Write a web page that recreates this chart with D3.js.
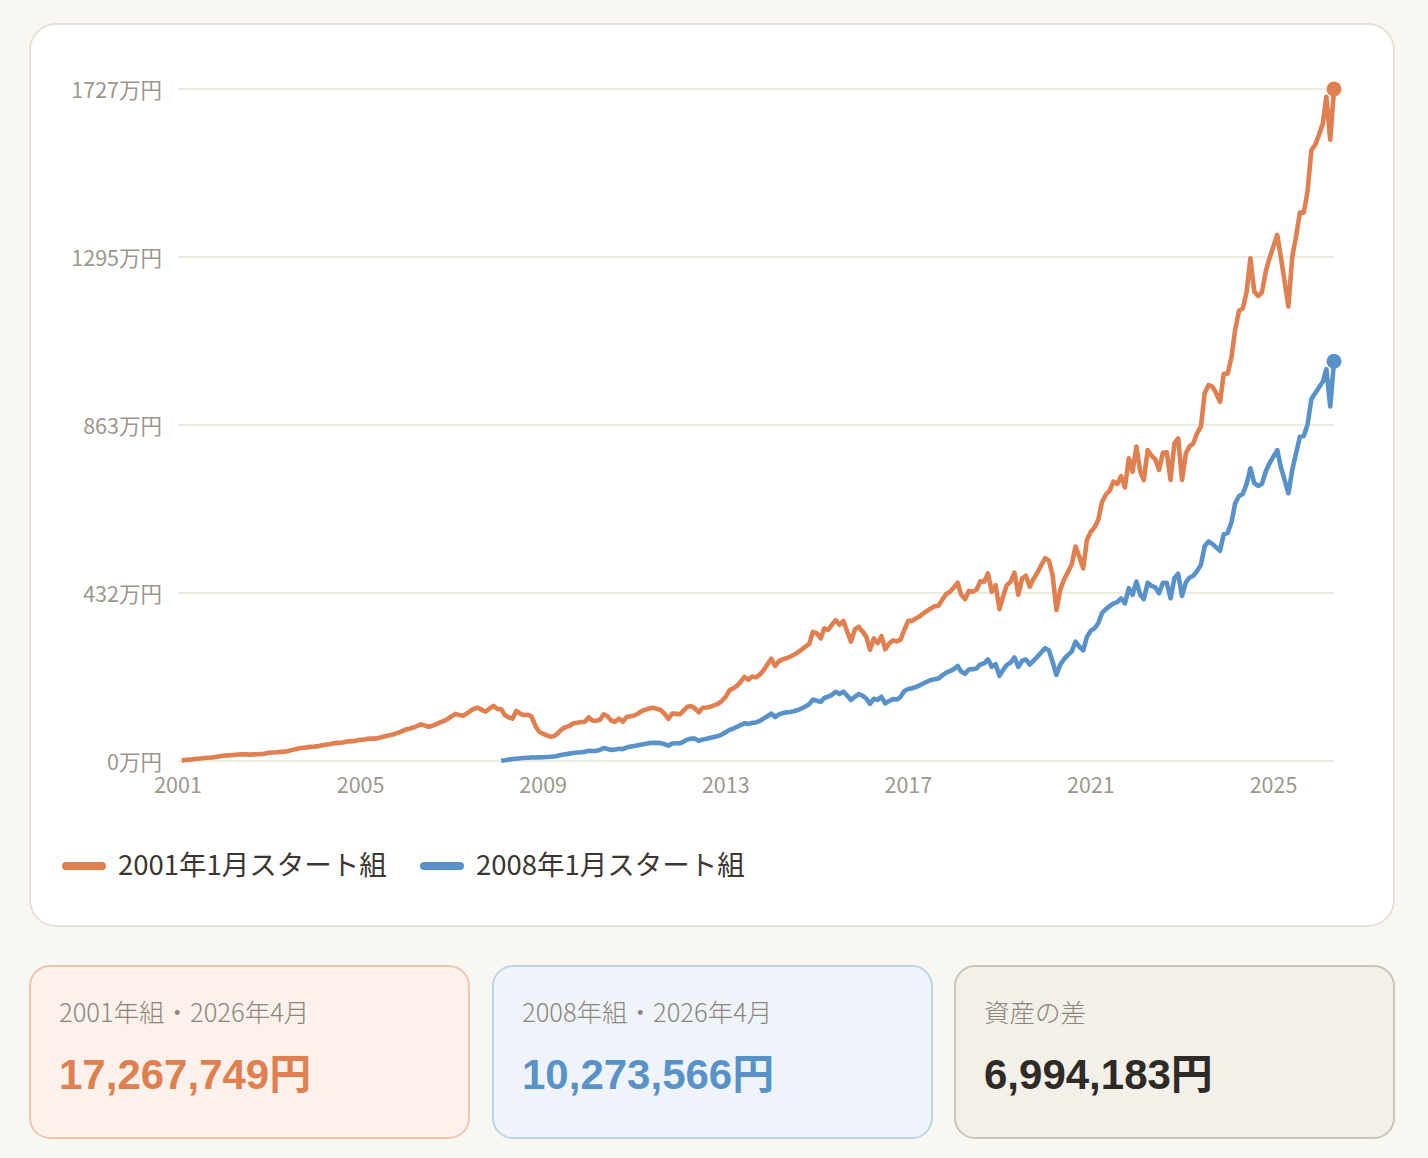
<!DOCTYPE html>
<html><head><meta charset="utf-8">
<script src="https://cdn.jsdelivr.net/npm/d3@7"></script>
<style>
html,body{margin:0;padding:0;background:#f9f7f2;}
body{width:1428px;height:1158px;overflow:hidden;font-family:"Noto Sans CJK JP","Noto Sans",sans-serif;}
</style></head><body>
<svg id="chart" width="1428" height="1158"></svg>
<script>
// ---- data (万円, month-end values) ----
const seriesNames = ["2001年1月スタート組", "2008年1月スタート組"];
const seriesStartYears = [2001, 2008];
const series2001 = [
  1.0, 2.5, 3.6, 4.5, 5.8, 6.5, 7.6, 8.4, 9.0, 10.5, 12.0, 13.6,
  14.5, 15.0, 16.2, 16.8, 17.5, 17.0, 16.5, 17.0, 17.2, 17.6, 19.5, 21.0,
  22.0, 22.5, 23.5, 24.0, 25.5, 28.0, 30.5, 32.5, 34.0, 35.0, 36.5, 37.0,
  38.5, 40.5, 42.0, 43.0, 45.5, 46.5, 47.0, 49.0, 50.5, 51.0, 52.5, 54.5,
  55.0, 57.0, 58.0, 57.5, 59.5, 62.5, 65.0, 67.0, 69.5, 73.0, 77.0, 81.0,
  83.5, 86.0, 90.0, 94.0, 91.0, 88.0, 91.0, 95.0, 99.0, 103.0, 108.0, 115.0,
  121.0, 118.0, 116.0, 122.0, 129.0, 135.0, 137.0, 131.0, 127.0, 135.0, 141.5, 134.0,
  133.0, 118.0, 112.0, 109.0, 128.5, 122.0, 118.0, 119.0, 114.0, 90.0, 75.0, 70.0,
  66.0, 62.5, 64.0, 72.0, 82.0, 87.0, 90.0, 97.0, 98.0, 100.0, 101.0, 112.0,
  104.0, 103.0, 106.0, 120.0, 115.0, 104.0, 101.0, 109.0, 101.0, 113.0, 115.0, 117.0,
  122.0, 128.0, 132.0, 135.0, 137.0, 134.0, 131.0, 121.0, 108.0, 122.0, 121.0, 120.0,
  130.0, 139.5, 141.0, 135.0, 125.0, 137.0, 137.5, 139.5, 143.0, 147.0, 154.0, 165.0,
  182.0, 186.0, 193.0, 204.0, 216.0, 209.0, 217.0, 215.0, 222.0, 233.0, 248.0, 263.0,
  244.0, 256.0, 261.0, 264.0, 268.0, 273.0, 279.0, 286.0, 294.0, 301.0, 332.0, 328.0,
  315.0, 341.0, 337.0, 350.0, 362.0, 350.0, 360.0, 332.0, 307.0, 338.0, 345.0, 333.0,
  319.0, 286.0, 315.0, 303.0, 321.0, 287.0, 302.0, 310.0, 307.0, 312.0, 337.0, 360.0,
  360.0, 366.0, 371.0, 379.0, 386.0, 392.0, 398.0, 399.0, 415.0, 429.0, 435.0, 446.0,
  458.0, 427.0, 416.0, 437.0, 435.0, 440.0, 462.0, 461.0, 482.0, 435.0, 452.0, 390.0,
  425.0, 452.0, 461.0, 484.0, 427.0, 469.0, 476.0, 448.0, 468.0, 484.0, 503.0, 521.0,
  515.0, 478.0, 388.0, 439.0, 466.0, 485.0, 505.0, 551.0, 525.0, 495.0, 568.0, 589.0,
  601.0, 619.0, 666.0, 684.0, 695.0, 718.0, 712.0, 732.0, 703.0, 778.0, 743.0, 808.0,
  743.0, 722.0, 799.0, 785.0, 775.0, 748.0, 792.0, 793.0, 722.0, 816.0, 829.0, 722.0,
  791.0, 808.0, 816.0, 842.0, 859.0, 945.0, 966.0, 962.0, 945.0, 923.0, 995.0, 995.0,
  1039.0, 1108.0, 1157.0, 1163.0, 1206.0, 1292.0, 1206.0, 1195.0, 1204.0, 1258.0, 1292.0, 1322.0,
  1352.0, 1296.0, 1232.0, 1168.0, 1296.0, 1347.0, 1409.0, 1409.0, 1463.0, 1570.0, 1583.0, 1609.0,
  1639.0, 1707.0, 1596.0, 1726.7749
];
const series2008 = [
  1.0, 2.0, 3.5, 5.0, 6.0, 7.0, 7.8, 8.5, 9.2, 9.0, 9.3, 9.8,
  10.2, 10.8, 11.5, 13.5, 16.0, 17.5, 19.0, 20.5, 21.8, 22.5, 23.5, 26.0,
  25.5, 26.5, 28.5, 33.5, 31.0, 28.5, 29.5, 31.5, 30.5, 35.0, 37.0, 38.5,
  40.5, 42.5, 44.0, 46.0, 47.0, 46.5, 46.0, 43.0, 39.5, 45.0, 45.5, 45.5,
  50.0, 55.0, 58.0, 57.5, 51.5, 55.5, 57.0, 59.5, 61.5, 64.0, 68.0, 74.0,
  80.0, 83.0, 88.0, 92.0, 97.0, 95.0, 98.0, 99.0, 103.0, 109.0, 115.0, 122.0,
  113.0, 119.0, 123.0, 125.0, 126.0, 128.0, 131.0, 135.0, 140.0, 146.0, 158.0, 155.0,
  152.0, 162.0, 165.0, 170.0, 178.0, 172.0, 178.0, 168.0, 157.0, 165.0, 172.0, 168.0,
  160.0, 147.0, 160.0, 157.0, 165.0, 148.0, 154.0, 159.0, 158.0, 165.0, 180.0, 185.0,
  187.0, 190.0, 194.0, 199.0, 204.0, 208.0, 210.0, 212.0, 220.0, 227.0, 231.0, 236.0,
  244.0, 230.0, 224.0, 235.0, 236.0, 238.0, 248.0, 251.0, 261.0, 242.0, 249.0, 219.0,
  235.0, 247.0, 253.0, 266.0, 242.0, 257.0, 261.0, 248.0, 258.0, 268.0, 279.0, 290.0,
  284.0, 255.0, 221.0, 247.0, 262.0, 272.0, 281.0, 307.0, 294.0, 284.0, 319.0, 335.0,
  341.0, 354.0, 380.0, 390.0, 398.0, 405.0, 408.0, 418.0, 405.0, 444.0, 427.0, 461.0,
  427.0, 416.0, 458.0, 450.0, 446.0, 431.0, 458.0, 458.0, 418.0, 470.0, 481.0, 424.0,
  459.0, 471.0, 476.0, 488.0, 504.0, 552.0, 564.0, 558.0, 549.0, 540.0, 583.0, 586.0,
  614.0, 662.0, 681.0, 686.0, 712.0, 752.0, 714.0, 707.0, 712.0, 744.0, 765.0, 782.0,
  799.0, 756.0, 722.0, 688.0, 748.0, 790.0, 833.0, 835.0, 864.0, 930.0, 945.0, 960.0,
  975.0, 1007.0, 911.0, 1027.3566
];
const xTickYears = [2001, 2005, 2009, 2013, 2017, 2021, 2025];
const yTickCount = 4;
const cardLabels = ["2001年組・2026年4月", "2008年組・2026年4月", "資産の差"];

// ---- styling ----
const colors = ["#e07f4f", "#5892c8"];
const svg = d3.select("#chart");
const margin = {left: 178, right: 1334, top: 89, bottom: 761};

svg.append("rect").attr("x", 30).attr("y", 24).attr("width", 1364).attr("height", 902)
  .attr("rx", 26).attr("fill", "#ffffff").attr("stroke", "#e7e2d7").attr("stroke-width", 2);

const toPoints = (vals, startYear) => vals.map((v, i) => ({
  date: new Date(Date.UTC(startYear, i + 1, 0)), v
}));
const data = [toPoints(series2001, seriesStartYears[0]), toPoints(series2008, seriesStartYears[1])];

const x = d3.scaleUtc()
  .domain([new Date(Date.UTC(2001, 0, 1)), data[0][data[0].length - 1].date])
  .range([margin.left, margin.right]);
const yMax = d3.max(series2001);
const y = d3.scaleLinear().domain([0, yMax]).range([margin.bottom, margin.top]);
const yTicks = d3.range(yTickCount + 1).map(i => yMax * i / yTickCount);

const grid = svg.append("g");
grid.selectAll("line").data(yTicks).join("line")
  .attr("x1", margin.left).attr("x2", margin.right)
  .attr("y1", d => y(d)).attr("y2", d => y(d))
  .attr("stroke", "#e9e5da").attr("stroke-width", 1.5);
grid.selectAll("text").data(yTicks).join("text")
  .attr("x", 162).attr("y", d => y(d) - 1).attr("text-anchor", "end")
  .attr("dominant-baseline", "central")
  .attr("font-size", 21.5).attr("fill", "#9d978c")
  .text(d => Math.round(d) + "万円");

svg.append("g").selectAll("text").data(xTickYears).join("text")
  .attr("x", d => x(new Date(Date.UTC(d, 0, 1)))).attr("y", 783)
  .attr("text-anchor", "middle").attr("dominant-baseline", "central")
  .attr("font-size", 21.5).attr("fill", "#9d978c")
  .text(d => d);

const line = d3.line().x(d => x(d.date)).y(d => y(d.v));
data.forEach((pts, i) => {
  svg.append("path").datum(pts).attr("d", line)
    .attr("fill", "none").attr("stroke", colors[i]).attr("stroke-width", 4.6)
    .attr("stroke-linejoin", "round");
  const last = pts[pts.length - 1];
  svg.append("circle").attr("cx", x(last.date)).attr("cy", y(last.v)).attr("r", 7.5)
    .attr("fill", colors[i]);
});

// legend
const legendX = [62, 420];
seriesNames.forEach((name, i) => {
  const g = svg.append("g");
  g.append("line").attr("x1", legendX[i] + 4).attr("x2", legendX[i] + 40)
    .attr("y1", 866).attr("y2", 866).attr("stroke", colors[i])
    .attr("stroke-width", 8).attr("stroke-linecap", "round");
  g.append("text").attr("x", legendX[i] + 56).attr("y", 863)
    .attr("dominant-baseline", "central").attr("font-size", 27.5)
    .attr("fill", "#3b3632").text(name);
});

// cards
const finals = [series2001[series2001.length - 1], series2008[series2008.length - 1]];
const yen = v => Math.round(v * 10000);
const cardValues = [yen(finals[0]), yen(finals[1]), yen(finals[0]) - yen(finals[1])];
const cards = [
  {x: 30, fill: "#fcf1eb", stroke: "#f1c6b0", color: colors[0]},
  {x: 493, fill: "#eff4fb", stroke: "#bcd5ea", color: colors[1]},
  {x: 955, fill: "#f3f0e9", stroke: "#ccc6ba", color: "#2e2a26"}
];
cards.forEach((c, i) => {
  svg.append("rect").attr("x", c.x).attr("y", 966).attr("width", 439).attr("height", 172)
    .attr("rx", 20).attr("fill", c.fill).attr("stroke", c.stroke).attr("stroke-width", 2);
  svg.append("text").attr("x", c.x + 29).attr("y", 1010)
    .attr("dominant-baseline", "central").attr("font-size", 25.5).attr("font-weight", 300)
    .attr("fill", "#8b857b").text(cardLabels[i]);
  svg.append("text").attr("x", c.x + 29).attr("y", 1074)
    .attr("dominant-baseline", "central")
    .attr("font-family", "'Liberation Sans', 'Noto Sans CJK JP', sans-serif")
    .attr("font-size", 42).attr("font-weight", 700)
    .attr("fill", c.color).text(d3.format(",")(cardValues[i]) + "円");
});
</script>
</body></html>
